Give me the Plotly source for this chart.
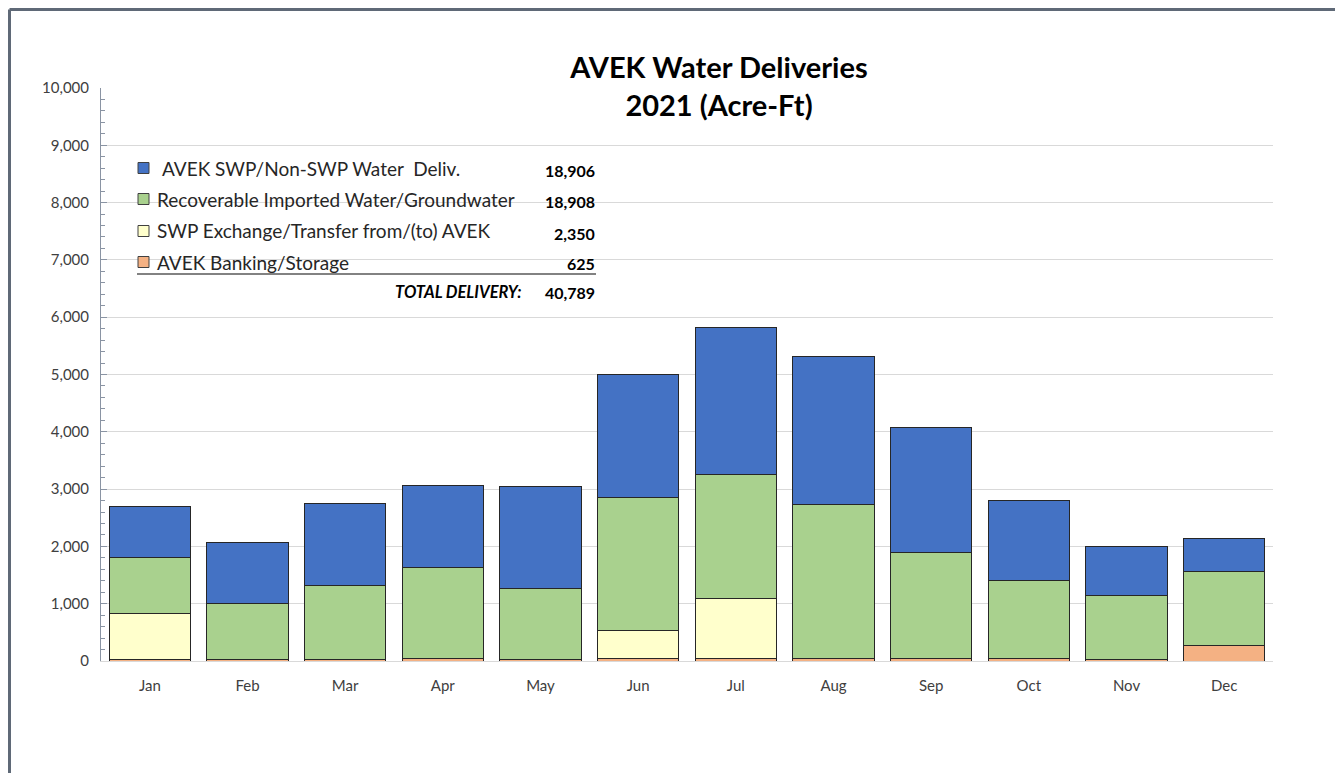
import plotly.graph_objects as go

# monthly deliveries, acre-ft
months = ["Jan", "Feb", "Mar", "Apr", "May", "Jun", "Jul", "Aug", "Sep", "Oct", "Nov", "Dec"]
banking = [30, 25, 25, 40, 25, 35, 40, 40, 40, 40, 20, 265]
exchange = [805, 0, 0, 0, 0, 495, 1050, 0, 0, 0, 0, 0]
recoverable = [973, 987, 1289, 1588, 1242, 2330, 2170, 2690, 1855, 1361, 1131, 1295]
swp = [890, 1058, 1430, 1442, 1774, 2146, 2554, 2590, 2186, 1401, 843, 585]

# yearly totals printed in the legend box
legend_names = [
    "AVEK SWP/Non-SWP Water\u00a0\u00a0Deliv.",
    "Recoverable Imported Water/Groundwater",
    "SWP Exchange/Transfer from/(to) AVEK",
    "AVEK Banking/Storage",
]
legend_totals = [18906, 18908, 2350, 625]

colors = {
    "swp": "#4472C4",
    "rec": "#A9D18E",
    "exc": "#FFFFCC",
    "bank": "#F4B183",
}
FONT = "Lato"

# plot area in screen pixels; the page body adds an 8px margin
OFF = 8
L, R, T, B = 101, 1273, 88, 661
W, H = 1343, 773


def fx(px):
    return (px - L) / (R - L)


def fy(py):
    return (B - py) / (B - T)


fig = go.Figure()
series = [
    ("AVEK Banking/Storage", banking, colors["bank"]),
    ("SWP Exchange/Transfer from/(to) AVEK", exchange, colors["exc"]),
    ("Recoverable Imported Water/Groundwater", recoverable, colors["rec"]),
    ("AVEK SWP/Non-SWP Water Deliv.", swp, colors["swp"]),
]
for name, vals, col in series:
    fig.add_trace(go.Bar(
        x=months, y=[v if v else None for v in vals], name=name,
        marker=dict(color=col, line=dict(color="#262626", width=1)),
        showlegend=False,
    ))

# custom legend box with totals
shapes = []
annotations = []
swatches = [colors["swp"], colors["rec"], colors["exc"], colors["bank"]]
row_y = [168, 199, 231, 262]
text_x = [160, 155, 155, 155]
for name, total, col, y, tx in zip(legend_names, legend_totals, swatches, row_y, text_x):
    shapes.append(dict(
        type="rect", xref="paper", yref="paper",
        x0=fx(138), x1=fx(149), y0=fy(y + 5.5), y1=fy(y - 5.5),
        fillcolor=col, line=dict(color="#404040", width=1),
    ))
    annotations.append(dict(
        text=name, xref="paper", yref="paper", x=fx(tx), y=fy(y),
        xanchor="left", yanchor="middle", showarrow=False,
        font=dict(family=FONT, size=19, color="#262626"),
    ))
    annotations.append(dict(
        text=f"<b>{total:,}</b>", xref="paper", yref="paper", x=fx(597), y=fy(y + 2),
        xanchor="right", yanchor="middle", showarrow=False,
        font=dict(family=FONT, size=16, color="#000000"),
    ))

shapes.append(dict(
    type="line", xref="paper", yref="paper",
    x0=fx(137), x1=fx(596), y0=fy(274), y1=fy(274),
    line=dict(color="#595959", width=1.5),
))
annotations.append(dict(
    text="<b><i>TOTAL DELIVERY:</i></b>", xref="paper", yref="paper",
    x=fx(523), y=fy(292), xanchor="right", yanchor="middle", showarrow=False,
    font=dict(family=FONT, size=16.5, color="#000000"),
))
annotations.append(dict(
    text=f"<b>{sum(legend_totals):,}</b>", xref="paper", yref="paper",
    x=fx(597), y=fy(292), xanchor="right", yanchor="middle", showarrow=False,
    font=dict(family=FONT, size=16, color="#000000"),
))

# frame of the original chart window (top and left edges)
shapes.append(dict(
    type="line", xref="paper", yref="paper",
    x0=fx(OFF + 1.5), x1=fx(W + OFF), y0=fy(OFF + 1.5), y1=fy(OFF + 1.5),
    line=dict(color="#5f6977", width=3),
))
shapes.append(dict(
    type="line", xref="paper", yref="paper",
    x0=fx(OFF + 1.5), x1=fx(OFF + 1.5), y0=fy(OFF + 1.5), y1=fy(H + OFF),
    line=dict(color="#5f6977", width=3),
))

fig.update_layout(
    barmode="stack",
    bargap=0.17,
    width=W,
    height=H,
    margin=dict(l=L - OFF, r=W + OFF - R, t=T - OFF, b=H + OFF - B),
    paper_bgcolor="white",
    plot_bgcolor="white",
    font=dict(family=FONT, color="#404040"),
    title=dict(
        text="<b>AVEK Water Deliveries</b><br><b>2021 (Acre-Ft)</b>",
        font=dict(family=FONT, size=29, color="#000000"),
        x=fx(719), xref="paper", xanchor="center",
        y=1 - 70 / H, yref="container", yanchor="top",
    ),
    shapes=shapes,
    annotations=annotations,
)

fig.update_yaxes(
    range=[0, 10000],
    dtick=1000,
    tickformat=",d",
    showgrid=True,
    gridcolor="#d9d9d9",
    gridwidth=1,
    showline=True,
    linecolor="#8a94a3",
    linewidth=1,
    ticks="inside",
    ticklen=6,
    tickcolor="#8a94a3",
    minor=dict(dtick=200, ticks="inside", ticklen=4, tickcolor="#8a94a3", showgrid=False),
    tickfont=dict(family=FONT, size=15, color="#404040"),
    ticklabelstandoff=8,
    zeroline=False,
)
fig.update_xaxes(
    showline=True,
    linecolor="#d9d9d9",
    linewidth=1,
    ticks="",
    tickfont=dict(family=FONT, size=15, color="#404040"),
    ticklabelstandoff=11,
)

fig.write_html("out.html")
